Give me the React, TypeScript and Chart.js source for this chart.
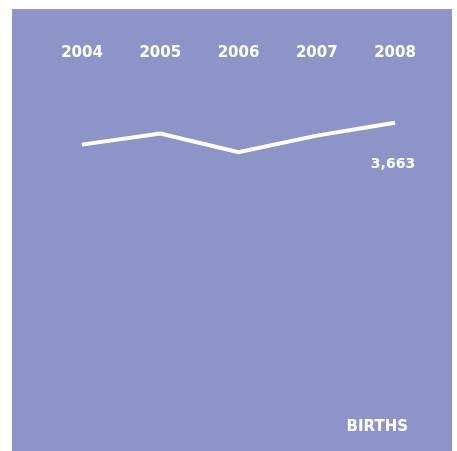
import { useEffect, useRef } from "react";
import { Chart, registerables } from "chart.js";

Chart.register(...registerables);

const years: string[] = ["2004", "2005", "2006", "2007", "2008"];
const births: number[] = [3541, 3603, 3499, 3591, 3663];
const seriesLabel = "BIRTHS";
const yMin = 3000;
const yMax = 4000;

const BG = "#8d95c8";
const FONT = "'DejaVu Sans', sans-serif";

const labelsPlugin = {
  id: "textLabels",
  afterDatasetsDraw(chart: any) {
    const { ctx } = chart;
    const meta = chart.getDatasetMeta(0);
    const last = meta.data[meta.data.length - 1];
    ctx.save();
    ctx.fillStyle = "#ffffff";
    ctx.textBaseline = "middle";
    ctx.font = `bold 14px ${FONT}`;
    ctx.textAlign = "center";
    ctx.fillText(births[births.length - 1].toLocaleString("en-US"), last.x - 2, last.y + 42);
    ctx.font = `bold 15px ${FONT}`;
    ctx.textAlign = "right";
    ctx.fillText(seriesLabel, chart.width - 44, chart.height - 24);
    ctx.restore();
  },
};

export default function App() {
  const ref = useRef<HTMLCanvasElement | null>(null);

  useEffect(() => {
    if (!ref.current) return;
    const chart = new Chart(ref.current, {
      type: "line",
      data: {
        labels: years,
        datasets: [
          {
            label: seriesLabel,
            data: births,
            borderColor: "#ffffff",
            borderWidth: 4,
            pointRadius: 0,
            tension: 0,
            fill: false,
          },
        ],
      },
      options: {
        responsive: false,
        animation: false,
        layout: { padding: { left: 70, right: 57, top: 35, bottom: 209 } },
        plugins: {
          legend: { display: false },
          tooltip: { enabled: false },
          title: { display: false },
        },
        scales: {
          x: {
            position: "top",
            offset: false,
            grid: { display: false, drawTicks: false },
            border: { display: false },
            ticks: {
              color: "#ffffff",
              font: { family: FONT, size: 15, weight: "bold" },
              padding: 0,
              maxRotation: 0,
              autoSkip: false,
            },
          },
          y: {
            display: false,
            min: yMin,
            max: yMax,
          },
        },
      },
      plugins: [labelsPlugin],
    });
    return () => chart.destroy();
  }, []);

  return (
    <div style={{ position: "absolute", left: 12, top: 9, width: 440, height: 442, background: BG }}>
      <canvas ref={ref} width={440} height={442} style={{ display: "block" }} />
    </div>
  );
}
